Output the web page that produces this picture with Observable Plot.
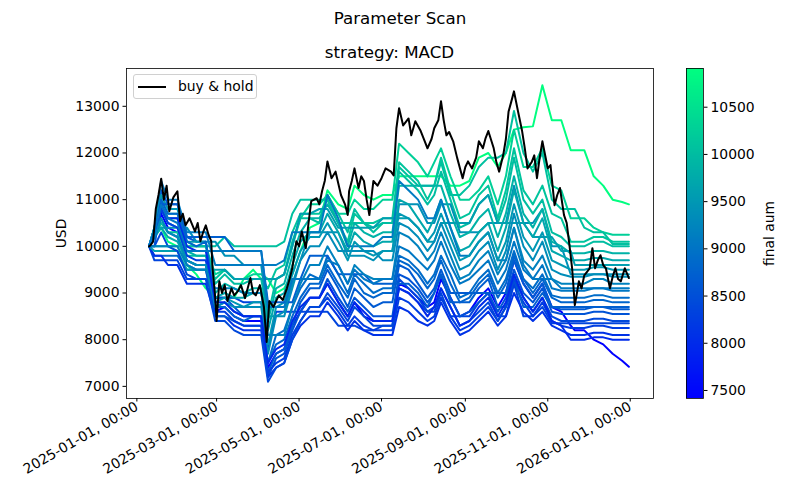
<!DOCTYPE html>
<html>
<head>
<meta charset="utf-8">
<script src="https://cdn.jsdelivr.net/npm/d3@7"></script>
<script src="https://cdn.jsdelivr.net/npm/@observablehq/plot@0.6"></script>
<style>
  body { margin: 0; background: #fff; }
  #fig { position: relative; width: 800px; height: 500px; overflow: hidden; background: #fff;
         font-family: "DejaVu Sans", sans-serif; color: #000; }
  #fig svg { position: absolute; top: 0; }
  .title { position: absolute; font-size: 16.7px; line-height: 16.7px; text-align: center; white-space: nowrap; }
  #legend { position: absolute; left: 133px; top: 74px; width: 124px; height: 25px; box-sizing: border-box;
            border: 1px solid #d0d0d0; border-radius: 3px; background: rgba(255,255,255,0.85); }
  #legend .swatch { position: absolute; left: 4px; top: 11px; width: 28px; height: 0; border-top: 2px solid #000; }
  #legend .label { position: absolute; left: 44px; top: 3px; font-size: 13.9px; line-height: 16px; }
</style>
</head>
<body>
<div id="fig">
  <div class="title" style="left:0;width:800px;top:10px;">Parameter Scan</div>
  <div class="title" style="left:126px;width:527px;top:44px;">strategy: MACD</div>
</div>
<script>
// Buy & hold value of the account (USD)
const holdDates = [
  "2025-01-10","2025-01-11","2025-01-13","2025-01-15","2025-01-17","2025-01-19","2025-01-21","2025-01-23","2025-01-25","2025-01-28",
  "2025-01-31","2025-02-02","2025-02-04","2025-02-06","2025-02-09","2025-02-13","2025-02-15","2025-02-17","2025-02-19","2025-02-21",
  "2025-02-23","2025-02-25","2025-02-26","2025-02-28","2025-03-01","2025-03-03","2025-03-05","2025-03-07","2025-03-09","2025-03-12",
  "2025-03-14","2025-03-17","2025-03-19","2025-03-22","2025-03-24","2025-03-26","2025-03-28","2025-03-30","2025-04-02","2025-04-05",
  "2025-04-07","2025-04-09","2025-04-12","2025-04-16","2025-04-19","2025-04-22","2025-04-24","2025-04-26","2025-04-29","2025-05-01",
  "2025-05-03","2025-05-06","2025-05-08","2025-05-10","2025-05-14","2025-05-16","2025-05-18","2025-05-20","2025-05-22","2025-05-25",
  "2025-05-28","2025-06-01","2025-06-04","2025-06-06","2025-06-07","2025-06-09","2025-06-11","2025-06-14","2025-06-16","2025-06-18",
  "2025-06-20","2025-06-22","2025-06-25","2025-06-28","2025-07-01","2025-07-04","2025-07-08","2025-07-10","2025-07-12","2025-07-14",
  "2025-07-17","2025-07-21","2025-07-23","2025-07-26","2025-07-30","2025-08-02","2025-08-04","2025-08-07","2025-08-09","2025-08-12",
  "2025-08-14","2025-08-16","2025-08-18","2025-08-20","2025-08-23","2025-08-26","2025-08-30","2025-09-01","2025-09-03","2025-09-06",
  "2025-09-09","2025-09-11","2025-09-14","2025-09-16","2025-09-18","2025-09-22","2025-09-24","2025-09-26","2025-09-29","2025-10-01",
  "2025-10-03","2025-10-05","2025-10-07","2025-10-10","2025-10-13","2025-10-15","2025-10-17","2025-10-20","2025-10-22","2025-10-24",
  "2025-10-26","2025-10-28","2025-11-01","2025-11-03","2025-11-06","2025-11-08","2025-11-10","2025-11-13","2025-11-15","2025-11-17",
  "2025-11-19","2025-11-21","2025-11-22","2025-11-24","2025-11-26","2025-11-28","2025-12-02","2025-12-04","2025-12-06","2025-12-08",
  "2025-12-10","2025-12-12","2025-12-14","2025-12-17","2025-12-19","2025-12-21","2025-12-23","2025-12-25","2025-12-28","2025-12-31"
];
const holdValues = [
  10000,10020,10100,10800,11100,11450,11000,11300,10750,11050,
  11180,10540,10700,10450,10600,10320,10500,10110,10300,10450,
  10250,10110,9530,8890,8400,9250,9000,9170,8830,9100,
  8950,9050,9170,8890,9100,9320,9000,8950,9170,8700,
  7950,8830,8700,8950,8850,9100,9300,9530,10110,10000,
  10320,9960,10500,10970,11030,10900,11180,11400,11820,11460,
  11600,11100,10900,10670,11180,11400,11670,11250,11500,11400,
  11000,10670,11400,11300,11460,11670,11600,11520,12530,12960,
  12590,12740,12380,12680,12470,12250,12100,12300,12530,12700,
  13110,12700,12380,12450,12250,11890,11460,11700,11820,11670,
  11900,12250,12100,12320,12470,12100,11800,11600,11950,12300,
  12890,13100,13320,12890,12470,12100,11670,11800,11950,11460,
  11900,12250,11670,11740,10880,11100,11250,10670,10500,10030,
  9530,8740,8900,9250,9100,9380,9530,9960,9530,9700,
  9810,9600,9530,9100,9350,9530,9300,9250,9530,9320
];

// Sampling dates shared by the MACD parameter runs
const scanDates = [
  "2025-01-10","2025-01-14","2025-01-19","2025-01-24","2025-01-31","2025-02-07","2025-02-14","2025-02-21",
  "2025-02-28","2025-03-07","2025-03-14","2025-03-21","2025-03-28","2025-04-03","2025-04-08","2025-04-14",
  "2025-04-20","2025-04-26","2025-05-02","2025-05-09","2025-05-16","2025-05-22","2025-05-30","2025-06-06",
  "2025-06-11","2025-06-18","2025-06-25","2025-07-02","2025-07-09","2025-07-14","2025-07-21","2025-07-28",
  "2025-08-04","2025-08-09","2025-08-14","2025-08-21","2025-08-28","2025-09-04","2025-09-11","2025-09-18",
  "2025-09-25","2025-10-01","2025-10-07","2025-10-14","2025-10-21","2025-10-28","2025-11-04","2025-11-11",
  "2025-11-18","2025-11-21","2025-11-28","2025-12-05","2025-12-12","2025-12-19","2025-12-26","2025-12-31"
];

// Account value of each parameter set (USD)
const runA = [10000,10200,10400,10100,10000,9600,9400,9100, 8900,8900,8900,9300,9500,9300,9300,9000,
  9100,9400,9900,10400,10500,11200,10900,10800, 11300,11100,11000,11100,11100,11500,11500,11500,
  11500,11500,11500,11300,11300,11400,11900,12000, 11700,12000,12500,12550,12570,13450,12700,12700,
  12060,12060,12060,11500,11300,11000,10950,10900];
const runB = [10000,10300,10900,10600,10600,10000,10000,10000, 9400,9500,9300,9300,9400,9400,9300,9300,
  9400,10000,10600,10900,10900,11100,10700,10700, 11000,10800,10800,11000,11000,12200,12000,11800,
  11500,11800,12100,11500,11000,11000,11200,11500, 10900,11500,12500,11700,11700,12100,11300,11200,
  10600,10600,10600,10400,10300,10250,10250,10250];
const runC = [10000,10200,10500,10300,10300,9800,9800,9800, 9300,9500,9300,9300,9300,9300,9100,9500,
  9600,10300,10700,10700,10700,11000,10500,10100, 10700,10500,10500,10600,10600,11800,11600,11400,
  11000,11300,11900,11200,10600,10700,11100,11300, 10600,11200,12100,11200,10900,11300,10700,10600,
  10100,10100,10100,10200,10200,10100,10100,10100];
const runD = [10000,10400,11000,10700,10700,10100,10000,10000, 9200,9400,9200,9200,9300,9300,8500,9300,
  9400,10100,10600,10600,10500,11100,10700,10300, 10800,10500,10400,10500,10500,11600,11400,11200,
  10900,11100,11600,11000,10400,10500,10900,11100, 10500,11000,11900,11000,10700,11000,10300,10200,
  10000,10000,10000,10100,10100,10000,10000,10000];
const runE = [10000,10300,10800,10500,10400,9900,9800,9800, 9000,9200,9100,9000,9100,9100,8400,9100,
  9200,9800,10300,10600,10600,10900,10500,10000, 10500,10300,10200,10300,10300,11300,11300,11300,
  11300,11300,11300,10700,10200,10300,10600,10800, 10200,10700,11500,10700,10400,10800,10100,10000,
  9850,9850,9850,9900,9900,9850,9850,9850];
const runF = [10000,10200,10400,10200,10100,9700,9600,9600, 8900,9000,8900,8900,9000,9000,8200,8900,
  9000,9600,10100,10300,10300,10700,10300,9900, 10300,10100,10000,10100,10100,11000,10900,10600,
  10300,10600,11000,10400,9900,10000,10300,10500, 9900,10400,11200,10500,10200,10600,9900,9800,
  9700,9700,9700,9750,9750,9700,9700,9700];
const runG = [10000,10400,11100,10800,10800,10100,10100,10100, 8800,8900,8800,8700,8800,8800,7900,8700,
  8800,9400,9900,10200,10200,10500,10100,9700, 10100,9900,9800,9900,9900,10700,10600,10400,
  10100,10300,10700,10200,9700,9800,10100,10300, 9700,10100,10900,10200,9900,10300,9700,9600,
  9500,9500,9500,9550,9550,9500,9500,9500];
const runH = [10000,10200,10600,10300,10200,9700,9600,9600, 8700,8800,8700,8700,8700,8700,7700,8500,
  8600,9200,9700,10000,10000,10300,9900,9900, 9900,9900,9900,9700,9700,10500,10400,10200,
  9900,10100,10500,10000,9500,9600,9900,10100, 9500,9900,10700,10000,9700,10100,9500,9400,
  9350,9350,9350,9400,9400,9350,9350,9350];
const runI = [10000,10000,10000,10000,10000,9600,9500,9500, 9100,9100,9100,9000,9000,9000,8100,8100,
  8100,8700,9200,9600,9600,10000,9600,9200, 9600,9400,9300,9300,9300,10300,10200,10000,
  9700,9900,10300,9800,9300,9400,9700,9900, 9400,9700,10400,9700,9500,9800,9300,9200,
  9200,9200,9200,9300,9300,9200,9200,9200];
const runJ = [10000,10300,10900,10600,10500,9900,9900,9900, 9900,9900,9900,9900,9900,9900,8700,8700,
  8700,9300,9300,9300,9300,9700,9600,9200, 9500,9300,9200,9300,9300,10000,9900,9700,
  9500,9700,10100,9600,9200,9300,9500,9700, 9200,9500,10100,9500,9300,9600,9100,9050,
  9050,9050,9050,9100,9100,9050,9050,9050];
const runK = [10000,9800,9800,9800,9800,9500,9500,9500, 8700,8800,8600,8500,8500,8500,7500,8100,
  8200,8700,9100,9400,9300,9800,9400,9000, 9400,9200,9000,9100,9100,9800,9700,9500,
  9200,9400,9800,9400,8900,9000,9300,9500, 9000,9300,9900,9300,9100,9400,8950,8900,
  8900,8900,8900,8950,8950,8900,8900,8900];
const runL = [10000,10300,11000,10700,10700,10100,10000,10100, 8700,8700,8500,8400,8500,8500,7500,7900,
  8000,8500,8900,9200,9200,9600,9200,8900, 9300,9000,8900,9000,9000,9700,9600,9400,
  9100,9300,9700,9200,8800,8900,9200,9400, 8900,9200,9800,9300,9000,9300,8900,8800,
  8800,8800,8800,8850,8850,8800,8800,8800];
const runM = [10000,10200,10600,10300,10200,9600,9500,9500, 8500,8500,8400,8300,8300,8300,7300,7700,
  7800,8300,8800,9100,9100,9500,9100,8700, 9100,8900,8700,8800,8800,9600,9500,9200,
  8900,9100,9500,9000,9000,9000,9000,9000, 9000,9000,9700,9200,8900,9200,8700,8650,
  8650,8650,8650,8700,8700,8650,8650,8650];
const runN = [10000,10400,11200,10900,10900,10200,10100,10100, 8900,8900,8700,8500,8500,8500,7200,7600,
  7700,8200,8600,8900,8900,9300,8900,8600, 8900,8700,8500,8500,8500,9400,9300,9100,
  8800,9000,9400,8900,8500,8600,8800,9000, 8600,8900,9500,9000,8800,9100,8600,8550,
  8550,8550,8550,8600,8600,8550,8550,8550];
const runO = [10000,10000,10300,10000,9900,9400,9300,9300, 8400,8400,8200,8100,8100,8100,7100,7400,
  7500,8000,8400,8700,8700,9000,8700,8400, 8700,8500,8300,8300,8300,9100,9000,8800,
  8600,8700,9100,8700,8300,8400,8600,8800, 8400,8700,9300,8900,8600,8900,8500,8400,
  8400,8400,8400,8450,8450,8400,8400,8400];
const runP = [10000,10200,10800,10500,10400,9800,9700,9700, 8600,8600,8400,8300,8300,8300,7300,7500,
  7600,8100,8400,8700,8700,8900,8600,8300, 8500,8300,8200,8200,8200,8900,8800,8600,
  8400,8500,8900,8500,8200,8300,8500,8700, 8400,8700,9200,8800,8500,8800,8400,8300,
  8250,8250,8250,8300,8300,8250,8250,8250];
const runQ = [10000,9800,9800,9600,9600,9200,9200,9200, 8500,8500,8300,8200,8200,8200,7200,7400,
  7500,8000,8300,8500,8500,8800,8500,8200, 8400,8200,8100,8100,8100,8700,8600,8400,
  8300,8400,8800,8400,8100,8200,8400,8600, 8300,8500,9000,8600,8400,8600,8300,8200,
  8100,8100,8100,8150,8150,8100,8100,8100];
const runR = [10000,10300,10900,10600,10600,10000,9900,9900, 8800,8800,8600,8500,8500,8500,7500,7800,
  7900,8400,8700,8900,8900,9200,8800,8500, 8800,8600,8400,8400,8400,9100,9000,8800,
  8500,8700,9100,8700,8300,8400,8700,8900, 8500,8800,9400,8900,8600,8900,8400,8300,
  8000,8000,8000,8050,8050,8000,8000,8000];
const runS = [10000,10200,10700,10400,10300,9700,9600,9600, 8600,8700,8500,8400,8400,8400,7400,7700,
  7800,8300,8600,8900,8900,9200,8800,8500, 8800,8500,8400,8400,8400,9200,9100,8900,
  8700,8800,9300,8900,8500,8600,8900,9100, 8700,9000,9700,9200,8900,9200,8700,8600,
  8300,8200,8200,8000,7900,7700,7550,7420];
const runT = [10000,9900,9900,9900,9900,9500,9500,9500, 9500,9500,9300,9300,9300,9300,9300,9300,
  9400,10000,10700,10700,10800,10800,10400,10400, 10400,10400,10400,10600,10600,10600,10600,10400,
  10100,10100,10500,10500,10500,10500,10900,11100, 10500,10500,10500,10500,10200,10200,10200,9900,
  9900,9600,9600,9600,9600,9600,9600,9600];
const runU = [10000,10400,10400,10400,10400,10400,10100,10100, 10100,9800,9800,9600,9600,9600,8500,8500,
  8500,9100,9700,10300,10300,10300,10300,9800, 9800,9800,9700,9900,9900,10900,10900,10900,
  10500,10500,10900,10900,10300,10300,10300,10500, 10500,10500,11300,10500,10500,10800,10000,10000,
  9400,9400,9400,9400,9400,9400,9400,9400];
const runV = [10000,10000,10900,10900,10900,10200,10200,10200, 10200,10200,9900,9900,9900,9900,8800,8800,
  8800,8800,9300,9800,9800,9800,9400,9400, 9400,9400,9200,9200,9200,9200,9200,9000,
  8700,9000,9400,8800,8800,8800,9100,9300, 8700,8700,9300,8700,8700,9000,8700,8700,
  8700,8700,8700,8700,8700,8700,8700,8700];
const runW = [10000,10400,11400,11000,11000,10300,10300,10300, 9600,9600,9600,9600,9600,9600,9600,9600,
  9700,10300,10300,10300,10300,11100,10600,10000, 10000,10000,10000,10200,10200,11400,11200,11000,
  10600,10600,11000,10400,9800,9800,10100,10300, 9700,9700,10400,9600,9300,9300,9300,9100,
  9100,9100,9100,9100,9100,9100,9100,9100];
const runX = [10000,9700,9700,9700,9700,9300,9300,9300, 8900,8900,8900,8800,8800,8800,7800,8600,
  8600,8600,8600,8600,8600,8600,8300,8300, 8300,8200,8200,8300,8300,9300,9100,8900,
  8600,8600,9000,8500,8500,8500,8800,9000, 8500,8500,9200,8500,8500,8700,8350,8350,
  8350,8350,8350,8350,8350,8350,8350,8350];
const runY = [10000,10000,10000,10000,10000,10000,10000,10000, 10000,10200,10000,10000,10000,10000,10000,10000,
  10100,10700,11000,11000,11000,11000,10500,10500, 10500,10500,10300,10500,10500,11700,11500,11300,
  11300,11300,11800,11100,11100,11300,11700,11900, 11900,12000,12900,12000,11600,12000,11000,10800,
  10800,10800,10400,10300,10300,10050,10050,10050];

const runs = [runA, runS, runB, runK, runY, runC, runX, runN, runD, runQ, runU, runE, runM, runT,
              runF, runP, runW, runG, runL, runV, runH, runO, runI, runR, runJ];

// Axis ticks
const dateTicks = ["2025-01-01","2025-03-01","2025-05-01","2025-07-01","2025-09-01","2025-11-01","2026-01-01"];
const usdTicks = [7000, 8000, 9000, 10000, 11000, 12000, 13000];
const aumTicks = [7500, 8000, 8500, 9000, 9500, 10000, 10500];

const parse = d3.utcParse("%Y-%m-%d");
const hold = holdDates.map((d, i) => ({date: parse(d), value: holdValues[i]}));
const rows = runs.flatMap((vals, i) =>
  vals.map((v, k) => ({run: i, date: parse(scanDates[k]), value: v, final: vals[vals.length - 1]})));

const aumDomain = [7415, 10910];
const colorOpts = {type: "linear", domain: aumDomain, range: ["#0000ff", "#00ff80"], interpolate: "rgb"};
const fontStyle = {fontFamily: "DejaVu Sans, sans-serif", fontSize: "13.9px", background: "transparent", color: "black", overflow: "visible"};

const main = Plot.plot({
  width: 660, height: 500,
  marginLeft: 126, marginRight: 7, marginTop: 68, marginBottom: 102,
  style: fontStyle,
  x: {type: "utc", domain: [new Date(Date.UTC(2024, 11, 24, 8)), new Date(Date.UTC(2026, 0, 18, 5))],
      ticks: dateTicks.map(parse), tickFormat: d3.utcFormat("%Y-%m-%d, %H:%M"),
      tickRotate: -30, tickSize: 3.5, tickPadding: 3.5, label: null},
  y: {domain: [6740, 13810], ticks: usdTicks, tickFormat: d => String(d), tickSize: 3.5, tickPadding: 3.5,
      label: "USD", labelAnchor: "center", labelArrow: "none", labelOffset: 70},
  color: colorOpts,
  marks: [
    Plot.line(rows, {x: "date", y: "value", z: "run", stroke: "final", strokeWidth: 2}),
    Plot.line(hold, {x: "date", y: "value", stroke: "black", strokeWidth: 2}),
    Plot.frame({stroke: "black", strokeWidth: 0.8})
  ]
});
main.style.left = "0px";

// Colour bar for the final account value
const bandStep = 10;
const bands = d3.range(aumDomain[0], aumDomain[1], bandStep);
const bar = Plot.plot({
  width: 160, height: 500,
  marginLeft: 46, marginRight: 97, marginTop: 68, marginBottom: 102,
  style: fontStyle,
  x: {domain: [0, 1], axis: null},
  y: {domain: aumDomain, ticks: aumTicks, tickFormat: d => String(d), axis: "right", tickSize: 3.5, tickPadding: 3.5,
      label: "final aum", labelAnchor: "center", labelArrow: "none", labelOffset: 70},
  color: colorOpts,
  marks: [
    Plot.rect(bands, {x1: 0, x2: 1, y1: d => d, y2: d => Math.min(d + 2 * bandStep, aumDomain[1]),
                      fill: d => d + bandStep / 2, shapeRendering: "crispEdges"}),
    Plot.frame({stroke: "black", strokeWidth: 0.8})
  ]
});
bar.style.left = "640px";

const fig = document.getElementById("fig");
fig.appendChild(main);
fig.appendChild(bar);

const legend = document.createElement("div");
legend.id = "legend";
legend.innerHTML = '<div class="swatch"></div><div class="label">buy &amp; hold</div>';
fig.appendChild(legend);
// keep titles above the plot layers
fig.querySelectorAll(".title").forEach(t => fig.appendChild(t));
</script>
</body>
</html>
